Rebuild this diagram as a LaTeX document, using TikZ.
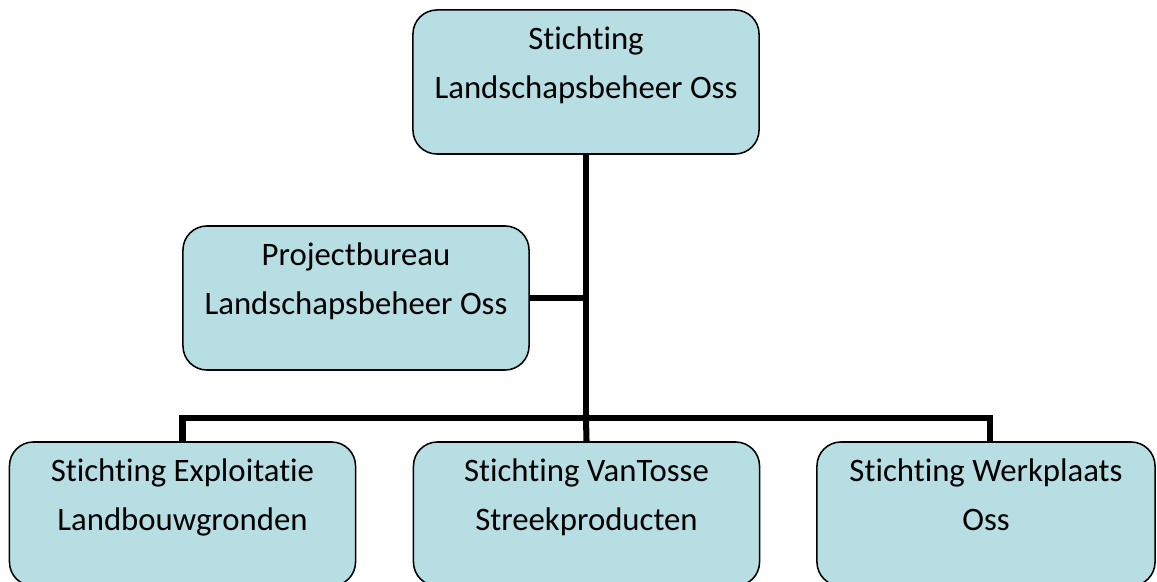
\documentclass[tikz,border=0pt]{standalone}
\usepackage{fontspec}
\setmainfont[RawFeature=-liga]{Carlito}
\usepackage{tikz}
\usepackage{color}
\usetikzlibrary{positioning}
\definecolor{boxblue}{RGB}{183,222,226}
\tikzstyle{org} = [draw=black, line width=1.1pt, fill=boxblue, rounded corners=0.6cm, minimum width=8.65cm, minimum height=3.6cm, inner sep=0pt]
\tikzstyle{txt} = [anchor=north, align=center, inner sep=0pt, yshift=-0.42cm, font=\fontsize{23.3pt}{35.5pt}\selectfont]
\tikzstyle{conn} = [line width=4.3pt]

\begin{document}
\begin{tikzpicture}[x=0.025cm,y=-0.025cm]
\clip (0,0) rectangle (1157,582);
\useasboundingbox (0,0) rectangle (1157,582);

\coordinate (bus) at (586,418);

% lines first, boxes on top
\node[org] (slo) at (586,82) {};
\node[org] (proj) at (356,298) {};
\node[org] (sel) at (182.5,514) {};
\node[org] (svt) at (586.5,514) {};
\node[org, minimum width=8.45cm] (swo) at (986,514) {};

\draw[conn] (slo.south) -- (bus);
\draw[conn] (proj.east) -- (proj.east -| bus);
\draw[conn] (sel.north) -- (sel.north |- bus) -- ([xshift=0.1cm]swo.north |- bus) -- ([xshift=0.1cm]swo.north);
\draw[conn] (bus) -- (svt.north);

\node[txt] (slotxt) at (slo.north) {Stichting\\Landschapsbeheer Oss};
\node[txt] (projtxt) at (proj.north) {Projectbureau\\Landschapsbeheer Oss};
\node[txt] (seltxt) at (sel.north) {Stichting Exploitatie\\Landbouwgronden};
\node[txt] (svttxt) at (svt.north) {Stichting VanTosse\\Streekproducten};
\node[txt] (swotxt) at (swo.north) {Stichting Werkplaats\\Oss};
\end{tikzpicture}
\end{document}
